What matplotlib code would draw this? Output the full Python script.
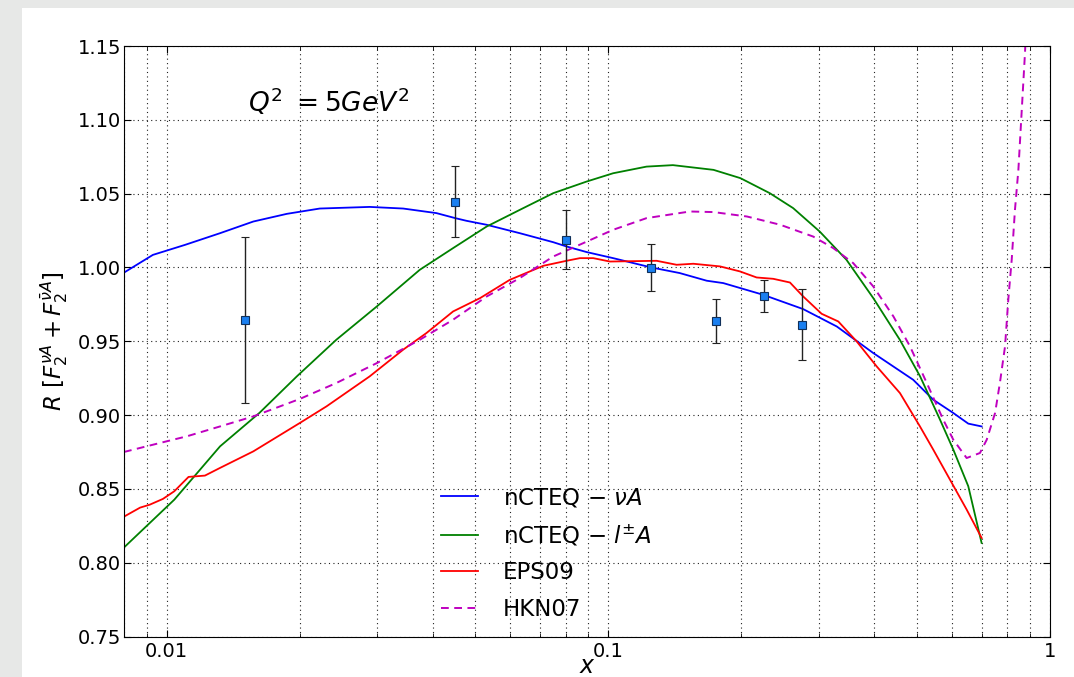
import numpy as np
import matplotlib
matplotlib.use('Agg')
from matplotlib import pyplot as plt
from matplotlib.patches import Rectangle
from matplotlib.ticker import FixedLocator, FuncFormatter, LogLocator, NullFormatter

# data points (x, R, error)
pts_x = [0.015, 0.045, 0.08, 0.125, 0.175, 0.225, 0.275]
pts_y = [0.9645, 1.0444, 1.0187, 0.9998, 0.9639, 0.9808, 0.9612]
pts_err = [0.056, 0.024, 0.020, 0.016, 0.015, 0.011, 0.024]

# nCTEQ - nu A
nu_x = [0.008, 0.0093, 0.011, 0.0132, 0.0157, 0.0187, 0.0222, 0.0288, 0.0343, 0.0408,
        0.045, 0.0477, 0.053, 0.063, 0.075, 0.0804, 0.0893, 0.1025, 0.125, 0.145,
        0.167, 0.182, 0.224, 0.276, 0.329, 0.398, 0.49, 0.544, 0.604, 0.653, 0.7]
nu_y = [0.9965, 1.0085, 1.0153, 1.0232, 1.0311, 1.0363, 1.0399, 1.0410, 1.0399, 1.0368,
        1.0334, 1.0316, 1.0289, 1.0232, 1.0171, 1.0142, 1.0104, 1.0063, 1.0000, 0.9962,
        0.9910, 0.9894, 0.9815, 0.9718, 0.9600, 0.9420, 0.9239, 0.9104, 0.9014, 0.8942, 0.8923]

# nCTEQ - l+- A
l_x = [0.008, 0.0104, 0.0132, 0.0162, 0.0197, 0.0242, 0.0299, 0.0374, 0.0445, 0.053,
       0.063, 0.075, 0.0893, 0.1025, 0.122, 0.140, 0.173, 0.199, 0.232, 0.262,
       0.301, 0.346, 0.398, 0.457, 0.508, 0.5635, 0.604, 0.653, 0.7]
l_y = [0.8103, 0.8427, 0.8788, 0.9014, 0.9262, 0.951, 0.9736, 0.9984, 1.0131, 1.0277,
       1.039, 1.0503, 1.0582, 1.0638, 1.0683, 1.0693, 1.0661, 1.0605, 1.0503, 1.0402,
       1.0243, 1.0052, 0.9792, 0.951, 0.9262, 0.8969, 0.8766, 0.8518, 0.8134]

# EPS09
eps_x = [0.008, 0.0087, 0.00915, 0.0098, 0.0104, 0.0112, 0.0122, 0.0132, 0.0157, 0.020,
         0.023, 0.0288, 0.0343, 0.0387, 0.0445, 0.0512, 0.0598, 0.0712, 0.0804, 0.0862,
         0.0924, 0.1008, 0.1286, 0.1427, 0.1557, 0.179, 0.1986, 0.2166, 0.2362, 0.2577,
         0.2762, 0.304, 0.3316, 0.3649, 0.4052, 0.4573, 0.5076, 0.544, 0.5935, 0.6475, 0.7]
eps_y = [0.8312, 0.8373, 0.8393, 0.8432, 0.8484, 0.8581, 0.859, 0.8642, 0.8754, 0.8946,
         0.9059, 0.9262, 0.9443, 0.9555, 0.9702, 0.9792, 0.9916, 1.0011, 1.0045, 1.0063,
         1.0063, 1.004, 1.0045, 1.0018, 1.0025, 1.0007, 0.9973, 0.9932, 0.9923, 0.9898,
         0.9803, 0.9686, 0.9634, 0.9499, 0.9329, 0.9149, 0.8923, 0.8766, 0.8563, 0.836, 0.8168]

# HKN07
hkn_x = [0.008, 0.0093, 0.0111, 0.0132, 0.0157, 0.020, 0.0242, 0.0299, 0.0374, 0.0445,
         0.053, 0.063, 0.075, 0.0893, 0.1025, 0.122, 0.153, 0.173, 0.206, 0.245,
         0.291, 0.323, 0.3585, 0.398, 0.442, 0.482, 0.526, 0.573, 0.604, 0.6475,
         0.694, 0.719, 0.751, 0.770, 0.791, 0.8045, 0.819, 0.833, 0.848, 0.878, 0.89]
hkn_y = [0.875, 0.8799, 0.8856, 0.8923, 0.8991, 0.9109, 0.9217, 0.9352, 0.951, 0.9646,
         0.9803, 0.9928, 1.0074, 1.0175, 1.0255, 1.0334, 1.0379, 1.0375, 1.0345, 1.0289,
         1.0209, 1.0131, 1.0029, 0.9871, 0.9668, 0.9465, 0.9217, 0.8969, 0.8833, 0.8709,
         0.8743, 0.8833, 0.9014, 0.9217, 0.9465, 0.9781, 1.0052, 1.039, 1.0661, 1.146, 1.19]

x_major = [0.01, 0.1, 1]
y_ticks = [0.75, 0.80, 0.85, 0.90, 0.95, 1.00, 1.05, 1.10, 1.15]

W, H = 1074, 677
fig = plt.figure(figsize=(W / 100, H / 100), dpi=100, facecolor='#e7e8e7')
# white page area (the grey strip is the screenshot border)
fig.patches.append(Rectangle((22 / W, 0), 1 - 22 / W, 1 - 8 / H, transform=fig.transFigure,
                             facecolor='white', edgecolor='none', zorder=-10))

ax = fig.add_axes([124 / W, 1 - 636.5 / H, (1050 - 124) / W, (636.5 - 46) / H])
ax.set_zorder(5)
ax.set_xscale('log')

ax.plot(nu_x, nu_y, color='b', lw=1.3, label=r'nCTEQ $-$ $\nu A$')
ax.plot(l_x, l_y, color='g', lw=1.3, label=r'nCTEQ $-$ $l^{\pm}A$')
ax.plot(eps_x, eps_y, color='r', lw=1.3, label='EPS09')
ax.plot(hkn_x, hkn_y, color='m', lw=1.4, ls=(0, (4, 2.8)), label='HKN07')

ax.errorbar(pts_x, pts_y, yerr=pts_err, fmt='s', color='#222222', ecolor='#222222',
            elinewidth=1.0, capsize=3, markersize=5.5, markerfacecolor='#1a7ff0',
            markeredgecolor='#10305a', markeredgewidth=0.8, zorder=5)

ax.set_xlim(0.008, 1)
ax.set_ylim(0.75, 1.15)

ax.xaxis.set_major_locator(FixedLocator(x_major))
ax.xaxis.set_major_formatter(FuncFormatter(lambda v, p: '%g' % v))
ax.xaxis.set_minor_locator(LogLocator(base=10, subs=np.arange(2, 10)))
ax.xaxis.set_minor_formatter(NullFormatter())
ax.set_yticks(y_ticks)
ax.set_yticklabels(['%.2f' % v for v in y_ticks])

ax.tick_params(which='both', direction='in', top=True, right=True, labelsize=14)
ax.tick_params(axis='y', pad=2)
ax.tick_params(axis='x', pad=4)
ax.tick_params(which='major', length=5)
ax.tick_params(which='minor', length=3)

ax.grid(True, which='major', axis='both', color='#222222', ls=(0, (1, 3)), lw=0.8)
ax.grid(True, which='minor', axis='x', color='#222222', ls=(0, (1, 3)), lw=0.8)

ax.set_xlabel(r'$x$', fontsize=17, labelpad=-5)
ax.set_ylabel(r'$R\ [F_2^{\nu A}+F_2^{\bar{\nu} A}]$', fontsize=16.5)
ax.yaxis.set_label_coords(-0.058, 0.5)

ax.text(0.0153, 1.105, r'$Q^2\ =5GeV^2$', fontsize=19, va='baseline')

leg = ax.legend(loc='lower left', bbox_to_anchor=(0.32, -0.008), frameon=False,
                fontsize=16.5, handlelength=1.6, handletextpad=1.1, labelspacing=0.58)

fig.savefig('out.png', dpi=100, facecolor=fig.get_facecolor())
